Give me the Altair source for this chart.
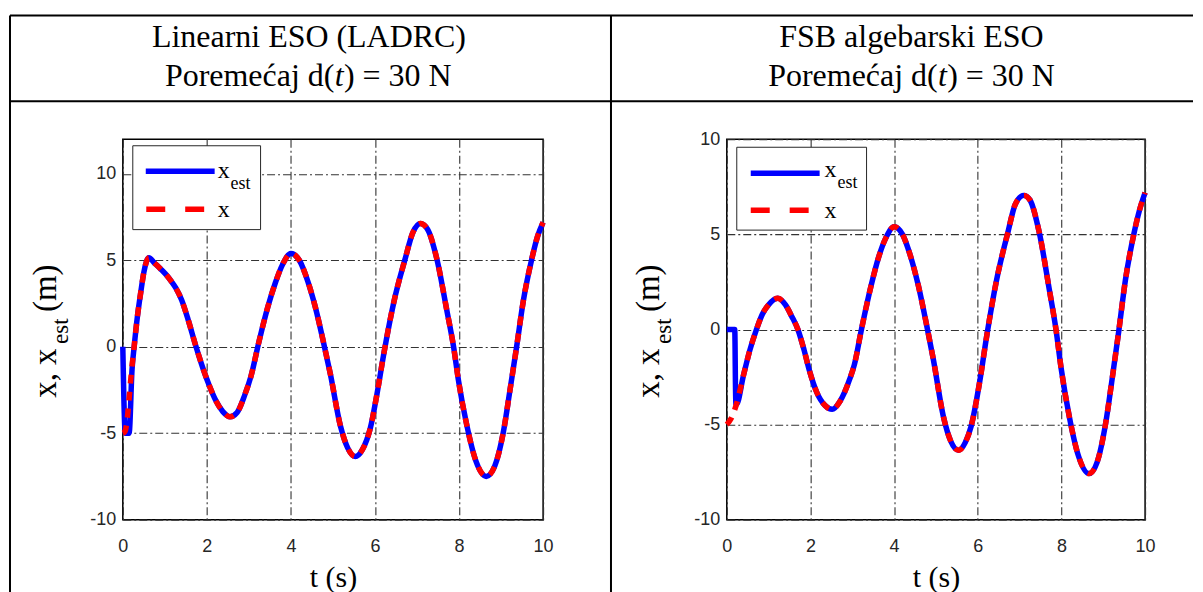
import altair as alt
import pandas as pd

SERIF = "Liberation Serif"
SANS = "Liberation Sans"
BLUE = "#0000ff"
RED = "#ff0000"

# ---------------- data ----------------
# Left panel: Linearni ESO (LADRC)
t_left = [0, 0.05, 0.1, 0.15, 0.2, 0.27, 0.35, 0.43, 0.5, 0.62, 0.75, 0.9, 1.02, 1.15, 1.26,
          1.4, 1.55, 1.73, 1.9, 2.05, 2.21, 2.38, 2.55, 2.72, 2.9, 3.05, 3.24, 3.45, 3.63, 3.8,
          4.0, 4.2, 4.4, 4.58, 4.78, 4.94, 5.18, 5.35, 5.53, 5.7, 5.89, 6.05, 6.21, 6.45, 6.72,
          6.9, 7.08, 7.25, 7.47, 7.71, 7.87, 7.99, 8.19, 8.4, 8.65, 8.85, 9.06, 9.2, 9.37, 9.53,
          9.73, 9.87, 10.0]
x_left = [-5.0, -4.9, -4.3, -3.0, -1.6, 0.0, 1.8, 3.2, 4.3, 5.15, 4.85, 4.5, 4.2, 3.8, 3.4,
          2.7, 1.6, 0.1, -1.2, -2.2, -3.1, -3.75, -4.05, -3.8, -2.8, -1.7, 0.3, 2.3, 3.7, 4.75,
          5.4, 5.0, 3.8, 2.3, 0.2, -1.6, -4.6, -5.85, -6.35, -5.95, -4.7, -2.7, -0.4, 2.6, 5.1,
          6.6, 7.13, 6.8, 5.1, 2.1, 0.0, -2.0, -4.6, -6.6, -7.5, -6.9, -4.86, -2.7, 0.0, 2.66,
          5.07, 6.4, 7.2]
# estimator transient before it joins x
t_left_est0 = [0, 0.06, 0.15, 0.22]
x_left_est0 = [0.0, -5.0, -5.0, -1.3]
left_join_t = 0.27

# Right panel: FSB algebarski ESO
t_right = [0, 0.1, 0.23, 0.4, 0.55, 0.71, 0.85, 1.0, 1.22, 1.4, 1.55, 1.7, 1.85, 1.98, 2.15,
           2.35, 2.52, 2.7, 2.94, 3.05, 3.21, 3.45, 3.63, 3.8, 4.0, 4.2, 4.4, 4.58, 4.78, 4.94,
           5.18, 5.35, 5.54, 5.7, 5.84, 6.05, 6.21, 6.45, 6.72, 6.9, 7.1, 7.25, 7.47, 7.71, 7.87,
           7.99, 8.19, 8.4, 8.66, 8.85, 9.06, 9.2, 9.37, 9.53, 9.73, 9.87, 10.0]
x_right = [-5.0, -4.7, -3.94, -2.4, -1.1, 0.0, 0.8, 1.3, 1.64, 1.3, 0.7, 0.0, -1.1, -2.2, -3.3,
           -4.0, -4.2, -3.8, -2.6, -1.85, -0.1, 2.3, 3.8, 4.8, 5.4, 5.0, 3.8, 2.3, 0.2, -1.6,
           -4.6, -5.85, -6.35, -5.95, -5.1, -2.7, -0.4, 2.6, 5.1, 6.6, 7.05, 6.8, 5.1, 2.1, 0.0,
           -2.0, -4.6, -6.6, -7.58, -7.0, -4.9, -2.8, -0.1, 2.6, 5.0, 6.3, 7.2]
t_right_est0 = [0, 0.19, 0.215]
x_right_est0 = [0.0, 0.0, -3.9]
right_join_t = 0.23

x_ticks = [0, 2, 4, 6, 8, 10]
y_ticks = [-10, -5, 0, 5, 10]
left_ydom = [-10, 12]
right_ydom = [-10, 10]

titles_left = ["Linearni ESO (LADRC)"]
titles_right = ["FSB algebarski ESO"]
line2_parts = ["Poremećaj d(", "t", ") = 30 N"]

one = pd.DataFrame({"k": [0]})
LABEL_EXPR = "'' + datum.value"


def rule(x1, x2, y1, y2, color="black", width=2.0, dash=None):
    kw = dict(color=color, strokeWidth=width)
    if dash:
        kw["strokeDash"] = dash
    return alt.Chart(one).mark_rule(**kw).encode(
        x=alt.value(x1), x2=alt.value(x2), y=alt.value(y1), y2=alt.value(y2))


def text(s, x, y, size, font=SERIF, align="center", angle=0, style="normal",
         color="black", baseline="alphabetic"):
    kw = dict(text=s, font=font, fontSize=size, align=align, baseline=baseline,
              color=color, fontStyle=style)
    if angle:
        kw["angle"] = angle
    return alt.Chart(one).mark_text(**kw).encode(x=alt.value(x), y=alt.value(y))


def panel(t_x, v_x, t_e0, v_e0, join_t, ydom, w, h, title, g):
    t_e = list(t_e0) + [t for t in t_x if t >= join_t]
    v_e = list(v_e0) + [v for t, v in zip(t_x, v_x) if t >= join_t]
    df_x = pd.DataFrame({"t": t_x, "v": v_x})
    df_e = pd.DataFrame({"t": t_e, "v": v_e})
    xs = alt.Scale(domain=[0, 10], nice=False, zero=False)
    ys = alt.Scale(domain=ydom, nice=False, zero=False)
    xax = alt.Axis(values=x_ticks, title="t (s)", titleFont=SERIF, titleFontSize=30,
                   titleFontWeight="normal", titleColor="black",
                   titleBaseline="alphabetic", titleY=g["xt_y"], labelPadding=18,
                   labelExpr=LABEL_EXPR, labelFlush=False, labelOverlap=False)
    yax = alt.Axis(values=y_ticks, title=None, labelPadding=7, labelExpr=LABEL_EXPR,
                   labelFlush=False, labelOverlap=False)
    enc = dict(x=alt.X("t:Q", scale=xs, axis=xax), y=alt.Y("v:Q", scale=ys, axis=yax))
    blue = alt.Chart(df_e).mark_line(color=BLUE, strokeWidth=5.5,
                                      interpolate="monotone").encode(**enc)
    red = alt.Chart(df_x).mark_line(color=RED, strokeWidth=5.5, strokeDash=[9, 8],
                                     interpolate="monotone").encode(**enc)

    layers = [blue, red]
    # legend box
    bx1, bx2, by1, by2 = g["box"]
    layers.append(alt.Chart(one).mark_rect(fill="white", stroke="#262626", strokeWidth=1).encode(
        x=alt.value(bx1), x2=alt.value(bx2), y=alt.value(by1), y2=alt.value(by2)))
    lx1, lx2, ly = g["leg_blue"]
    layers.append(rule(lx1, lx2, ly, ly, color=BLUE, width=5.5))
    rx1, rx2, ry = g["leg_red"]
    layers.append(rule(rx1, rx2, ry, ry, color=RED, width=5.5, dash=[19, 20]))
    tx = g["leg_text_x"]
    layers.append(text("x", tx, g["leg_b1"], 24, align="left"))
    layers.append(text("est", tx + 13, g["leg_b1"] + 11, 18, align="left"))
    layers.append(text("x", tx, g["leg_b2"], 24, align="left"))

    # y axis title with subscript, rotated
    yb, ybs = g["yt_x"], g["yt_sub_x"]
    layers.append(text("x, x", yb, g["yt_y"][0], 33, align="left", angle=270))
    layers.append(text("est", ybs, g["yt_y"][1], 23, align="left", angle=270))
    layers.append(text("(m)", yb, g["yt_y"][2], 33, align="left", angle=270))

    # header texts
    layers.append(text(title, g["h_cx"], g["h_y1"], 32))
    layers.append(text(line2_parts[0], g["t_x"] - 4.8, g["h_y2"], 32, align="right"))
    layers.append(text(line2_parts[1], g["t_x"], g["h_y2"], 32, style="italic"))
    layers.append(text(line2_parts[2], g["t_x"] + 4.8, g["h_y2"], 32, align="left"))

    # table lines
    for (a, b, c, d) in g.get("lines", []):
        layers.append(rule(a, b, c, d))

    return alt.layer(*layers).properties(width=w, height=h)


# panel origins (plot area top-left, page px): left (122,138), right (727,138)
g_left = dict(
    xt_y=67,
    box=(10, 138, 6.5, 90.5), leg_blue=(23, 92, 32), leg_red=(23.5, 82, 70),
    leg_text_x=95, leg_b1=38.5, leg_b2=78,
    yt_x=-67, yt_sub_x=-55, yt_y=(259, 205, 173),
    h_cx=186.5, h_y1=-92.3, h_y2=-53.7, t_x=216.7,
    lines=[(-113, 1072, -124, -124), (-113, 1072, -38, -38),
           (-113, -113, -124, 456), (489, 489, -124, 456)],
)
g_right = dict(
    xt_y=67,
    box=(10, 140, 8, 91), leg_blue=(24, 93, 34), leg_red=(24, 83, 71),
    leg_text_x=98, leg_b1=38, leg_b2=79,
    yt_x=-68, yt_sub_x=-56, yt_y=(259, 205, 173),
    h_cx=185, h_y1=-92.3, h_y2=-53.7, t_x=216,
)

p1 = panel(t_left, x_left, t_left_est0, x_left_est0, left_join_t, left_ydom, 421, 381,
           titles_left[0], g_left)
p2 = panel(t_right, x_right, t_right_est0, x_right_est0, right_join_t, right_ydom, 419, 381,
           titles_right[0], g_right)

chart = alt.hconcat(p1, p2, spacing=184, bounds="flush").properties(
    padding={"left": 0, "top": 5, "right": 0, "bottom": 0}
).configure_axis(
    labelFont=SANS, labelFontSize=18, labelColor="#262626",
    ticks=False, domain=False, grid=True, gridColor="#333333",
    gridDash=[8, 3, 2, 3], gridWidth=1.1, gridOpacity=1,
).configure_view(stroke="black", strokeWidth=1.5)

chart.save("out.html", embed_options={"renderer": "svg", "actions": False})
